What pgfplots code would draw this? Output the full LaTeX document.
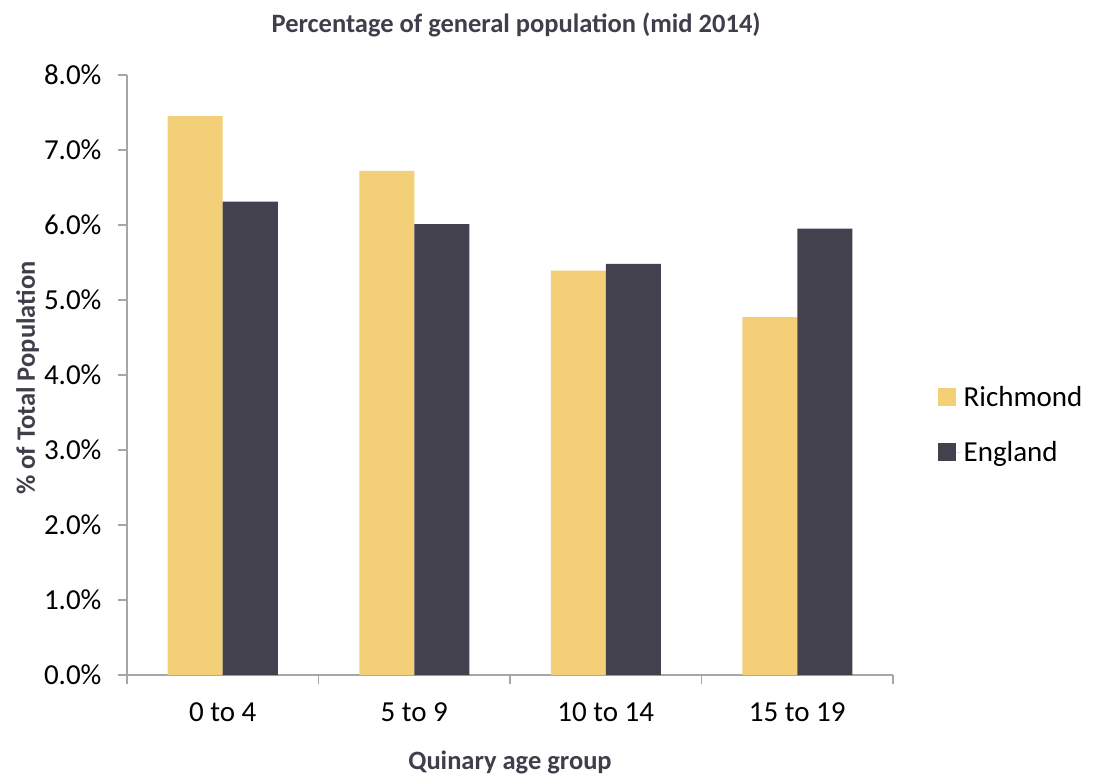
\documentclass[border=0pt]{standalone}
\usepackage{fontspec}
\setmainfont{Carlito}
\usepackage{pgfplots}
\pgfplotsset{compat=1.18}
\definecolor{richmond}{HTML}{F3D078}
\definecolor{england}{HTML}{42414D}
\definecolor{axisgray}{HTML}{A6A6A6}
\definecolor{labelgray}{HTML}{3F3F4B}
\begin{document}
\begin{tikzpicture}
\begin{axis}[
  name=ax,
  scale only axis, width=766pt, height=600pt,
  xmin=-0.5, xmax=3.5, ymin=0, ymax=8,
  axis x line*=bottom, axis y line*=left,
  axis line style={axisgray, line width=1.3pt, -},
  font=\fontsize{29}{34}\selectfont,
  /pgf/number format/assume math mode=true,
  ytick={0,1,...,8},
  yticklabel={\pgfmathprintnumber[fixed,fixed zerofill,precision=1]{\tick}\%},
  yticklabel style={xshift=-13pt},
  tick align=outside, major tick length=9pt,
  tick style={axisgray, line width=1.3pt},
  xtick={-0.5,0.5,1.5,2.5,3.5}, xticklabels={},
  extra x ticks={0,1,2,3},
  extra x tick labels={0 to 4,5 to 9,10 to 14,15 to 19},
  extra x tick style={major tick length=0pt, xticklabel style={yshift=-24pt}},
  ybar, bar width=55pt,
  title={Percentage of general population (mid 2014)},
  title style={at={(0.508,1.06)}, anchor=base,
    font=\fontsize{26.5}{31}\selectfont\bfseries, text=labelgray},
  xlabel={Quinary age group},
  xlabel style={at={(0.5,-0.158)}, anchor=base,
    font=\fontsize{26.5}{31}\selectfont\bfseries, text=labelgray},
  ylabel={\% of Total Population},
  ylabel style={at={(-0.1201,0.495)}, anchor=base, rotate=0,
    font=\fontsize{26.5}{31}\selectfont\bfseries, text=labelgray},
  legend style={at={(1.058,0.4175)}, anchor=west, draw=none, fill=none,
    font=\fontsize{29}{34}\selectfont, row sep=30pt,
    inner sep=0pt},
  legend cell align=left,
  legend image code/.code={%
    \fill[#1] (0pt,-9pt) rectangle (18pt,9pt);
    \path (0pt,0pt) -- (24pt,0pt);},
]
\addplot[fill=richmond, draw=none, bar shift=-27.5pt]
  coordinates {(0,7.45) (1,6.72) (2,5.39) (3,4.77)};
\addplot[fill=england, draw=none, bar shift=27.5pt]
  coordinates {(0,6.31) (1,6.01) (2,5.48) (3,5.95)};
\legend{Richmond,England}
\end{axis}
% page frame: 1097 x 776 around the plot area
\pgfresetboundingbox
\path[use as bounding box] ([shift={(-127pt,-101pt)}]ax.south west)
  rectangle ([shift={(970pt,675pt)}]ax.south west);
\end{tikzpicture}
\end{document}
